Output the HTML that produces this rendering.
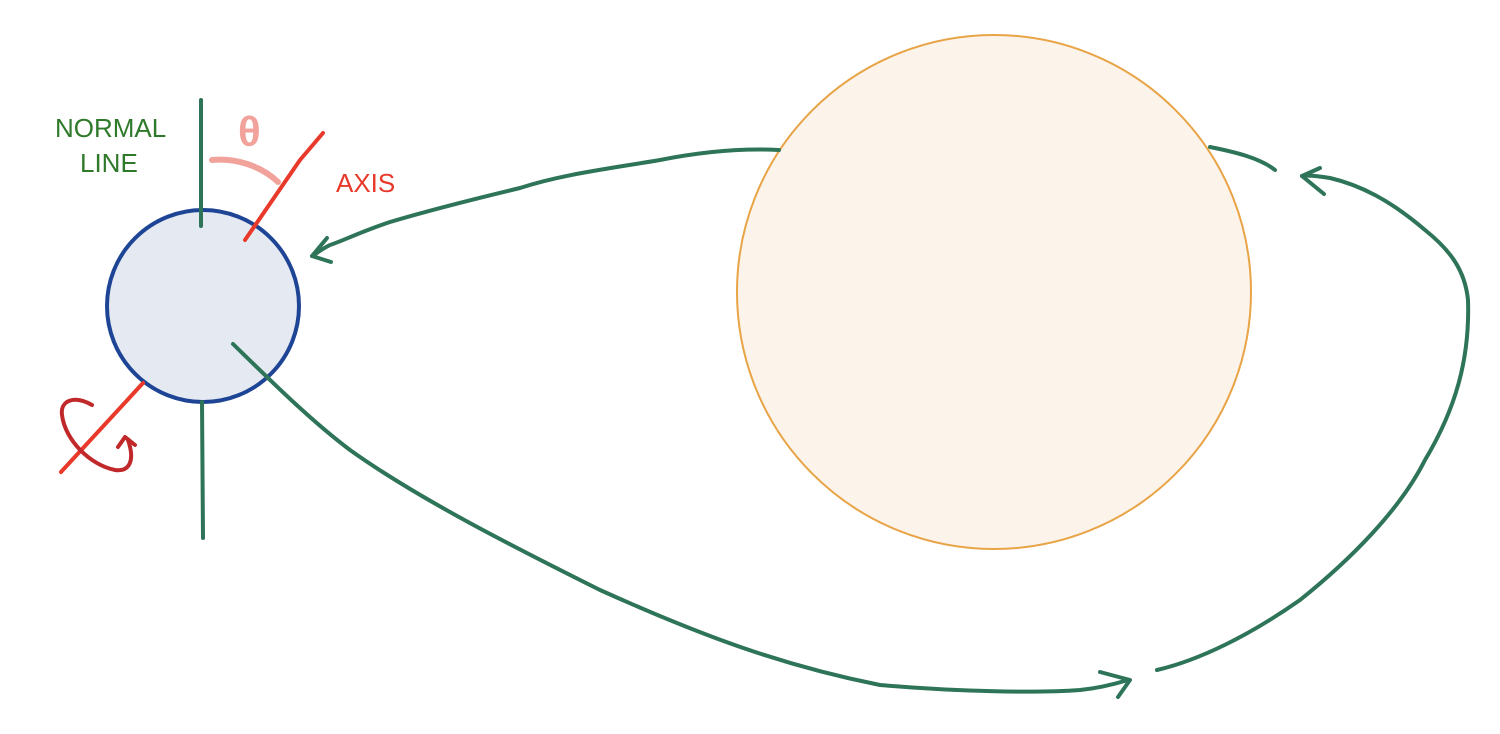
<!DOCTYPE html>
<html><head><style>
body{margin:0;width:1500px;height:734px;background:#fff;overflow:hidden}
svg{display:block}
text{font-family:"Liberation Sans",sans-serif}
</style></head><body>
<svg width="1500" height="734" viewBox="0 0 1500 734" fill="none" stroke-linecap="round" stroke-linejoin="round">
<circle cx="994" cy="292" r="257" fill="#fcf3ea" stroke="#e8a446" stroke-width="2"/>
<circle cx="203" cy="306" r="96" fill="#e5eaf2" stroke="#1e4595" stroke-width="4"/>
<g stroke="#2e7458" stroke-width="4">
<line x1="201" y1="100" x2="201" y2="226"/>
<line x1="202" y1="402" x2="203" y2="538"/>
<path d="M779 150 C740 148 700 152 660 160 C600 170 560 175 520 188 C470 200 430 210 390 222 C360 232 345 240 330 245 C320 250 316 254 312 256"/>
<path d="M327 238 L312 256 L331 262"/>
<path d="M233 344 C270 380 310 420 350 450 C420 500 520 550 600 590 C700 635 780 665 880 685 C960 692 1040 693 1080 690 C1100 688 1115 684 1128 680"/>
<path d="M1100 672 L1130 680 L1118 697"/>
<path d="M1210 147 C1235 152 1260 158 1275 170"/>
<path d="M1157 670 C1200 660 1250 635 1300 600 C1350 560 1400 510 1425 460 C1455 410 1470 360 1468 300 C1465 270 1450 250 1425 230 C1390 200 1360 185 1330 178 C1318 176 1308 175 1302 176"/>
<path d="M1320 168 L1302 176 L1324 194"/>
</g>
<g stroke="#e8392a" stroke-width="4">
<path d="M245 240 L300 160 L323 133"/>
<line x1="143" y1="383" x2="61" y2="472"/>
</g>
<path d="M92 405 C75 395 60 400 62 415 C65 440 90 465 115 470 C130 472 135 460 128 440 M118 447 L125 437 L135 445" stroke="#c0282a" stroke-width="4"/>
<path d="M212 160 C235 158 260 165 278 182" stroke="#f0a29b" stroke-width="6"/>
<text x="238" y="146" font-size="42" font-weight="bold" fill="#f0a29b">θ</text>
<text x="55" y="137" font-size="26" fill="#2f7a2a">NORMAL</text>
<text x="80" y="172" font-size="26" fill="#2f7a2a">LINE</text>
<text x="336" y="192" font-size="26" fill="#e8392a">AXIS</text>
</svg>
</body></html>
